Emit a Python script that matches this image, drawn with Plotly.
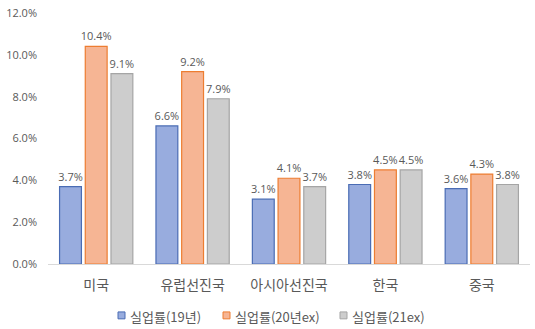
import plotly.graph_objects as go

categories = ["미국", "유럽선진국", "아시아선진국", "한국", "중국"]
series_names = ["실업률(19년)", "실업률(20년ex)", "실업률(21ex)"]
rate_19 = [3.7, 6.6, 3.1, 3.8, 3.6]
rate_20 = [10.4, 9.2, 4.1, 4.5, 4.3]
rate_21 = [9.1, 7.9, 3.7, 4.5, 3.8]
y_ticks = [0, 2, 4, 6, 8, 10, 12]

fills = ["#98acde", "#f6b594", "#cdcdcd"]
lines = ["#4a6cb4", "#ed7d31", "#a5a5a5"]

W, H = 535, 329
ML, MR, MT, MB = 48, 5, 10, 65
PW, PH = W - ML - MR, H - MT - MB


def px_x(px):
    return (px - ML) / PW


def px_y(py):
    return (H - MB - py) / PH


fig = go.Figure()
for name, vals, fc, lc in zip(series_names, [rate_19, rate_20, rate_21], fills, lines):
    fig.add_trace(go.Bar(
        x=categories, y=vals, name=name,
        marker=dict(color=fc, line=dict(color=lc, width=1.2)),
        text=[f"{v:.1f}%" for v in vals], textposition="outside",
        constraintext="none",
        textfont=dict(color="#595959", size=11, family="Open Sans, sans-serif"),
        cliponaxis=False,
    ))

# legend drawn as small bordered squares followed by labels
legend_x = [118, 223, 340]
legend_y = 316
shapes = []
annotations = []
for lx, name, fc, lc in zip(legend_x, series_names, fills, lines):
    shapes.append(dict(type="rect", xref="paper", yref="paper",
                       x0=px_x(lx), x1=px_x(lx + 7),
                       y0=px_y(legend_y + 3.5), y1=px_y(legend_y - 3.5),
                       fillcolor=fc, line=dict(color=lc, width=1)))
    annotations.append(dict(xref="paper", yref="paper", x=px_x(lx + 10), y=px_y(legend_y + 1),
                            text=name, showarrow=False, xanchor="left", yanchor="middle",
                            font=dict(size=13, color="#595959",
                                      family="Noto Sans CJK KR, sans-serif")))

fig.update_layout(
    width=W, height=H,
    margin=dict(l=ML, r=MR, t=MT, b=MB),
    paper_bgcolor="white", plot_bgcolor="white",
    barmode="group", bargap=0.2, bargroupgap=0.15,
    font=dict(family="Noto Sans CJK KR, sans-serif", color="#595959"),
    showlegend=False,
    shapes=shapes, annotations=annotations,
    xaxis=dict(showline=True, linecolor="#d9d9d9", linewidth=1, ticks="",
               ticklabelstandoff=8,
               tickfont=dict(size=14, color="#595959")),
    yaxis=dict(range=[0, 12], tickvals=y_ticks,
               ticktext=[f"{v:.1f}%" for v in y_ticks],
               showgrid=False, zeroline=False, showline=False,
               ticklabelstandoff=10,
               tickfont=dict(size=11, color="#595959", family="Open Sans, sans-serif")),
)

fig.write_html("out.html")
